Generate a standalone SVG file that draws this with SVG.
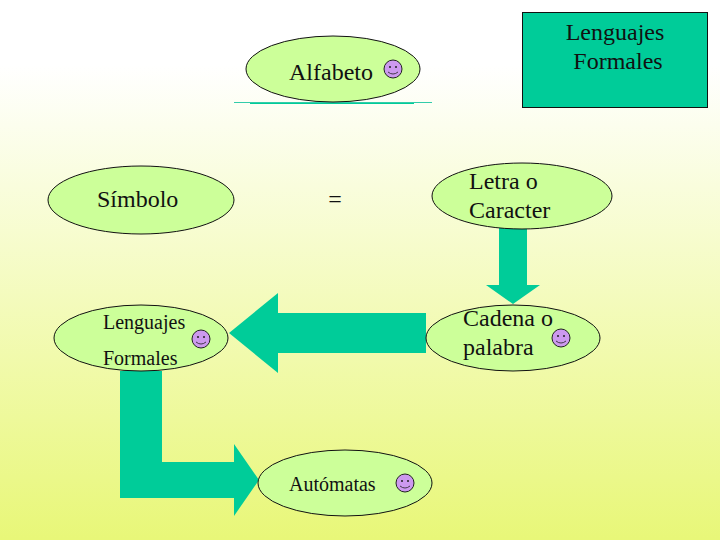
<svg xmlns="http://www.w3.org/2000/svg" width="720" height="540" viewBox="0 0 720 540">
<defs>
<linearGradient id="bg" x1="0" y1="0" x2="0" y2="1">
<stop offset="0" stop-color="#ffffff"/>
<stop offset="0.12" stop-color="#ffffff"/>
<stop offset="1" stop-color="#e8f778"/>
</linearGradient>
<g id="smiley">
<circle r="9" fill="#cc99ee" stroke="#222" stroke-width="1"/>
<circle cx="-3" cy="-2" r="1" fill="#222"/>
<circle cx="3" cy="-2" r="1" fill="#222"/>
<path d="M-5 3Q0 7 5 3" fill="none" stroke="#222" stroke-width="0.8"/>
</g>
</defs>
<style>
.n{fill:#ccff99;stroke:#111;stroke-width:1}
.a{fill:#00cc99;stroke:none}
text{font-family:"Liberation Serif","Times New Roman",serif;fill:#111}
.m{font-size:24px}
.s{font-size:20px}
</style>
<rect width="720" height="540" fill="url(#bg)"/>
<g id="connectors">
<path class="a" d="M250 103H414V104H250Z"/>
<path d="M234 102.500H432" stroke="#33ccaa" stroke-width="1" fill="none"/>
<path class="a" d="M499 228H527V285H540L513 304L486 285H499Z"/>
<path class="a" d="M426 313V353H278V373L229 333L278 293V313Z"/>
<path class="a" d="M120 371H162V462H234V444L259 480L234 516V498H120Z"/>
</g>
<g id="lenguajes-formales-box">
<rect x="522.500" y="12.500" width="185" height="95" fill="#00cc99" stroke="#111" stroke-width="1"/>
<text class="m" x="615" y="40" text-anchor="middle">Lenguajes</text>
<text class="m" x="618" y="69" text-anchor="middle">Formales</text>
</g>
<g id="alfabeto">
<ellipse class="n" cx="333" cy="69" rx="87" ry="33"/>
<text class="m" x="289" y="80">Alfabeto</text>
<use href="#smiley" x="393" y="69"/>
</g>
<g id="simbolo">
<ellipse class="n" cx="141" cy="200" rx="93" ry="34"/>
<text class="m" x="97" y="207">Símbolo</text>
</g>
<g id="igual">
<text class="m" x="335" y="207" text-anchor="middle">=</text>
</g>
<g id="letra">
<ellipse class="n" cx="522" cy="196" rx="90" ry="33"/>
<text class="m" x="469" y="189">Letra o</text>
<text class="m" x="469" y="218">Caracter</text>
</g>
<g id="cadena">
<ellipse class="n" cx="513" cy="338" rx="87" ry="33"/>
<text class="m" x="463" y="326">Cadena o</text>
<text class="m" x="463" y="355">palabra</text>
<use href="#smiley" x="561" y="338"/>
</g>
<g id="lenguajes">
<ellipse class="n" cx="141" cy="338" rx="87" ry="33"/>
<text class="s" x="103" y="329">Lenguajes</text>
<text class="s" x="103" y="365">Formales</text>
<use href="#smiley" x="201" y="339"/>
</g>
<g id="automatas">
<ellipse class="n" cx="345" cy="483" rx="87" ry="33"/>
<text class="s" x="289" y="491">Autómatas</text>
<use href="#smiley" x="405" y="483"/>
</g>
</svg>
